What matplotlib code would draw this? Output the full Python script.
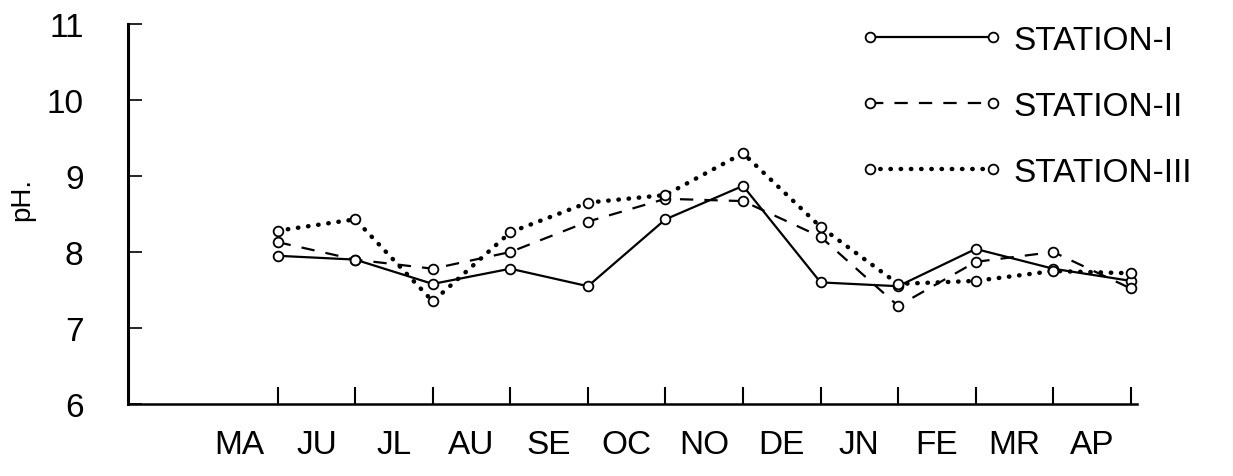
import matplotlib
matplotlib.use("Agg")
import matplotlib.pyplot as plt

months = ['MA', 'JU', 'JL', 'AU', 'SE', 'OC', 'NO', 'DE', 'JN', 'FE', 'MR', 'AP']
station1 = [7.95, 7.90, 7.58, 7.78, 7.55, 8.43, 8.87, 7.60, 7.55, 8.04, 7.78, 7.62]
station2 = [8.13, 7.90, 7.78, 8.00, 8.40, 8.70, 8.67, 8.20, 7.29, 7.87, 8.00, 7.52]
station3 = [8.28, 8.43, 7.35, 8.26, 8.65, 8.75, 9.30, 8.33, 7.58, 7.62, 7.75, 7.72]
labels = ['STATION-I', 'STATION-II', 'STATION-III']
yticks = [6, 7, 8, 9, 10, 11]

plt.rcParams['font.family'] = ['Liberation Sans', 'DejaVu Sans']

fig = plt.figure(figsize=(12.33, 4.77), dpi=100)
ax = fig.add_axes([128/1233, 72/477, 1009/1233, 380/477])

x = list(range(len(months)))
mk = dict(marker='o', markersize=7, markerfacecolor='white', markeredgecolor='black',
          markeredgewidth=1.3, color='black', clip_on=False)
l1, = ax.plot(x, station1, linestyle='-', linewidth=1.6, **mk)
l2, = ax.plot(x, station2, linestyle=(0, (6, 5)), linewidth=1.6, **mk)
l3, = ax.plot(x, station3, linestyle=(0, (0.1, 2.2)), linewidth=3.2,
              dash_capstyle='round', **mk)

ax.set_xlim(-1.93, 11.08)
ax.set_ylim(6, 11)

for s in ['top', 'right']:
    ax.spines[s].set_visible(False)
ax.spines['left'].set_linewidth(2.2)
ax.spines['bottom'].set_linewidth(1.8)

ax.set_yticks(yticks)
ax.set_yticklabels([str(v) for v in yticks], fontsize=24)
ax.tick_params(axis='y', direction='in', length=10, width=1.2, pad=32)

ax.set_xticks(x)
ax.set_xticklabels([''] * len(x))
ax.tick_params(axis='x', which='major', direction='in', length=12, width=1.5)
ax.set_xticks([i - 0.5 for i in x], minor=True)
ax.set_xticklabels(months, minor=True, fontsize=24)
ax.tick_params(axis='x', which='minor', length=0, pad=18)

ax.set_ylabel('pH.', fontsize=20)
ax.yaxis.set_label_coords(-0.092, 0.54)

leg = ax.legend([l1, l2, l3], labels, numpoints=2, fontsize=24, frameon=False,
                loc='upper left', bbox_to_anchor=(860/1233, 1 - 26/477),
                bbox_transform=fig.transFigure, borderaxespad=0, borderpad=0,
                handlelength=4.3, handletextpad=0.3, labelspacing=1.05)

fig.savefig('out.png', dpi=100)
